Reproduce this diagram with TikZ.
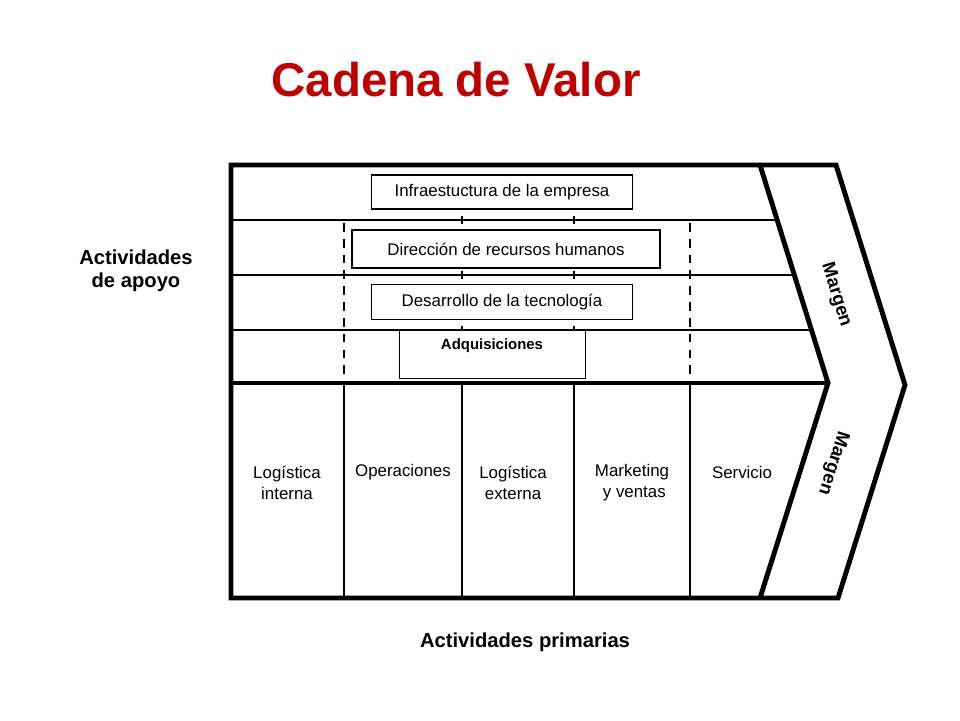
\documentclass[tikz,border=0pt]{standalone}
\usepackage{fontspec}
\setmainfont{Liberation Sans}
\begin{document}
\begin{tikzpicture}[x=0.02cm, y=-0.02cm]
        % ================= estilos =================
        \tikzset{
            % marco grueso
            frame/.style={draw=black, line width=2.8pt, line join=miter},
            % rejilla fina
            grid/.style={draw=black, line width=0.9pt},
            % cajas de apoyo
            supbox/.style={draw=black, line width=0.9pt, fill=white, font=\fontsize{9.6}{11}\selectfont, inner sep=0pt},
            % textos primarios
            primlabel/.style={align=center, font=\fontsize{9.6}{12}\selectfont},
            sidelabel/.style={align=center, font=\bfseries\fontsize{11.5}{13}\selectfont}
        }
        \useasboundingbox (0,0) rectangle (960,720);

        % titulo
        \node[font=\bfseries\fontsize{27}{32}\selectfont, text=red!75!black] (title) at (456,80) {Cadena de Valor};

        % ================= rejilla =================
        \foreach \yy in {220,275,330} \draw[grid] (231,\yy) -- ({760+68*(\yy-165)/218},\yy);
        \foreach \xx in {344,462,574,690} \draw[grid] (\xx,383) -- (\xx,598);
        \foreach \xx in {344,690} \draw[grid, dash pattern=on 5pt off 4pt, line width=1.4pt] (\xx,223) -- (\xx,383);
        \foreach \xx in {462,574} \foreach \yy in {220,275,330} \draw[line width=1.4pt] (\xx,\yy-4) -- (\xx,\yy+4);

        % marco exterior y margen
        \draw[frame] (231,165) -- (836,165) -- (905,385) -- (838,598) -- (231,598) -- cycle;
        \draw[frame] (760,165) -- (828,383) -- (760,598);
        \draw[frame] (231,383) -- (828,383);

        % ================= actividades de apoyo =================
        \node[supbox, minimum width=261*0.02cm, minimum height=34*0.02cm] (infra) at (502,192) {Infraestuctura de la empresa};
        \node[supbox, minimum width=308*0.02cm, minimum height=38*0.02cm] (rrhh) at (506,249) {Dirección de recursos humanos};
        \node[supbox, minimum width=261*0.02cm, minimum height=35*0.02cm] (tecno) at (502,302) {Desarrollo de la tecnología};
        \node[draw=black, line width=0.5pt, fill=white, minimum width=186*0.02cm, minimum height=48*0.02cm] (adq) at (492,354) {};
        \node[font=\bfseries\fontsize{8.5}{10}\selectfont] (adqtext) at (492,346) {Adquisiciones};

        % ================= actividades primarias =================
        \node[primlabel] (logint) at (287,483) {Logística\\interna};
        \node[primlabel] (oper) at (403,472) {Operaciones};
        \node[primlabel] (logext) at (513,483) {Logística\\externa};
        \node[primlabel] (mkt) at (632,483) {Marketing\\\ y ventas};
        \node[primlabel] (serv) at (742,472) {Servicio};

        % margen
        \node[font=\bfseries\fontsize{10.5}{12}\selectfont, rotate=-72.7] (margtop) at (836,295) {Margen};
        \node[font=\bfseries\fontsize{10.5}{12}\selectfont, rotate=-107.5] (margbot) at (833,463) {Margen};

        % etiquetas laterales
        \node[sidelabel] (apoyo) at (136,271) {Actividades\\de apoyo};
        \node[sidelabel] (prim) at (525,642) {Actividades primarias};
    \end{tikzpicture}
\end{document}
